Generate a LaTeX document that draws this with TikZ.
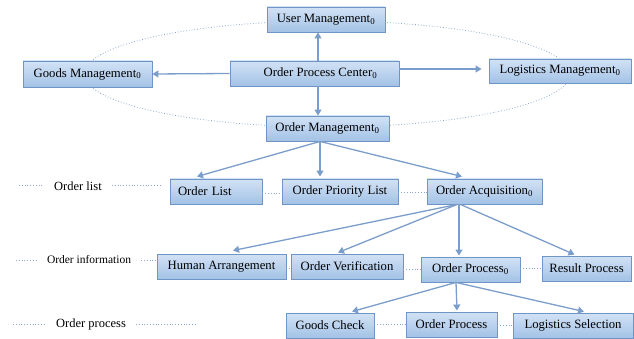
\documentclass[tikz,border=0pt]{standalone}
\usepackage{fontspec}
\setmainfont{Liberation Serif}
\usetikzlibrary{arrows.meta,calc}
\definecolor{bordc}{HTML}{6F94C6}
\definecolor{boxtop}{HTML}{D2E2F5}
\definecolor{boxbot}{HTML}{A3C2E6}
\definecolor{arrc}{HTML}{7B9DCB}
\definecolor{dotc}{HTML}{8AA6CE}
\tikzset{
  box/.style={draw=bordc, line width=0.9pt, top color=boxtop, bottom color=boxbot,
    minimum height=25pt, inner sep=0pt, font=\fontsize{12.7}{14}\selectfont, text=black},
  arr/.style={draw=arrc, line width=1.3pt, -{Triangle[width=7pt,length=6pt]}},
  dotl/.style={draw=dotc, line width=0.8pt, dotted},
  lab/.style={inner xsep=10pt, inner ysep=2pt, font=\fontsize{12.5}{14}\selectfont, text=black}
}
\begin{document}
\begin{tikzpicture}[x=1pt,y=-1pt]
\useasboundingbox (0,0) rectangle (634,339);
% dotted ellipse
\draw[dotl] (327,74) ellipse [x radius=243, y radius=53];
% boxes
\node[box, minimum width=118pt] (um) at (326,19.5) {User Management\textsubscript{0}};
\node[box, minimum width=129pt, minimum height=26pt] (gm) at (87.5,74) {Goods Management\textsubscript{0}};
\node[box, minimum width=169pt] (opc) at (314.5,73.5) {\hspace*{12pt}Order Process Center\textsubscript{0}};
\node[box, minimum width=142pt, minimum height=24pt] (lm) at (560,71) {Logistics Management\textsubscript{0}};
\node[box, minimum width=123pt] (om) at (327.5,128.5) {Order Management\textsubscript{0}};
\node[box, minimum width=92pt, text width=92pt, align=left] (ol) at (216,191.5) {\hspace*{8pt}Order List};
\node[box, minimum width=116pt] (opl) at (340,191.5) {Order Priority List};
\node[box, minimum width=115pt] (oa) at (484.5,191.5) {Order Acquisition\textsubscript{0}};
\node[box, minimum width=129pt] (ha) at (221.5,266.5) {Human Arrangement};
\node[box, minimum width=112pt] (ov) at (347,266.5) {Order Verification};
\node[box, minimum width=99pt] (op0) at (470.5,269.5) {Order Process\textsubscript{0}};
\node[box, minimum width=89pt] (rp) at (586.5,268.5) {Result Process};
\node[box, minimum width=88pt] (gc) at (330,325.5) {Goods Check};
\node[box, minimum width=91pt] (op) at (451.5,324.5) {Order Process};
\node[box, minimum width=120pt] (ls) at (573,325.5) {Logistics Selection};
% left labels
\node[lab] (l1) at (78,186) {Order list};
\node[lab, font=\fontsize{11.5}{13}\selectfont] (l2) at (89,260) {Order information};
\node[lab] (l3) at (91,324) {Order process};
\coordinate (l1a) at (19,185);
\coordinate (l1b) at (162,185);
\coordinate (l2a) at (16,260);
\coordinate (l3a) at (13,324);
\coordinate (l3b) at (196,324);
\draw[dotl] (l1a) -- (l1a -| l1.west);
\draw[dotl] (l1b -| l1.east) -- (l1b);
\draw[dotl] (l2a) -- (l2a -| l2.west);
\draw[dotl] (l2.east) -- (l2.east -| ha.west);
\draw[dotl] (l3a) -- (l3a -| l3.west);
\draw[dotl] (l3b -| l3.east) -- (l3b);
% dotted links in rows
\draw[dotl] ([yshift=-1.5pt]ol.east) -- ([yshift=-1.5pt]opl.west);
\draw[dotl] ([yshift=-1pt]opl.east) -- ([yshift=-1pt]oa.west);
\draw[dotl] ([yshift=-2pt]ha.east) -- ([yshift=-2pt]ov.west);
\draw[dotl] ([yshift=-2.5pt]ov.east) -- ([yshift=0.5pt]op0.west);
\draw[dotl] ([yshift=1pt]op0.east) -- (rp.west);
\draw[dotl] ([yshift=1.5pt]gc.east) -- ([yshift=0.5pt]op.west);
\draw[dotl] ([yshift=-1pt]op.east) -- (ls.west);
% arrows
\draw[arr] ([xshift=3.5pt]opc.north) -- ([xshift=-8pt]um.south);
\draw[arr] ([xshift=3.5pt]opc.south) -- ([xshift=-9.5pt]om.north);
\draw[arr] (opc.west) -- (gm.east);
\draw[arr] ([yshift=4.5pt]opc.east) -- ([xshift=-7pt,yshift=2pt]lm.west);
\draw[arr] ([xshift=-7.5pt]om.south) -- ([xshift=-19pt,yshift=2pt]ol.north);
\draw[arr] ([xshift=-7.5pt]om.south) -- ([xshift=-20pt,yshift=2pt]opl.north);
\draw[arr] ([xshift=-7.5pt]om.south) -- ([xshift=-22.5pt,yshift=2pt]oa.north);
\draw[arr] ([xshift=-27.5pt]oa.south) -- ([xshift=11.5pt,yshift=3pt]ha.north);
\draw[arr] ([xshift=-27.5pt]oa.south) -- ([xshift=-9pt,yshift=1pt]ov.north);
\draw[arr] ([xshift=-25.5pt]oa.south) -- ([xshift=-11.5pt,yshift=1pt]op0.north);
\draw[arr] ([xshift=-24pt]oa.south) -- ([xshift=-12pt,yshift=1pt]rp.north);
\draw[arr] ([xshift=-14.5pt]op0.south) -- ([xshift=22pt,yshift=1pt]gc.north);
\draw[arr] ([xshift=-14.5pt]op0.south) -- ([xshift=5.5pt,yshift=1pt]op.north);
\draw[arr] ([xshift=-14.5pt]op0.south) -- ([xshift=11pt,yshift=1pt]ls.north);
\end{tikzpicture}
\end{document}
